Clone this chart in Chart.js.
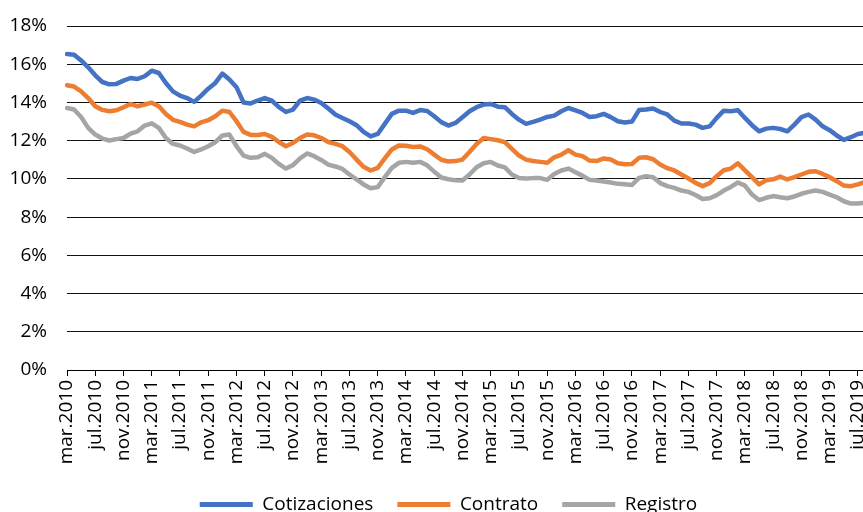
<!DOCTYPE html>
<html>
<head>
<meta charset="utf-8">
<script src="https://cdn.jsdelivr.net/npm/chart.js@4.4.1/dist/chart.umd.min.js"></script>
<style>
  html, body { margin:0; padding:0; overflow:hidden; background:#fff; }
  #wrap { position:absolute; left:0; top:0; width:868px; height:512px; }
</style>
</head>
<body>
<div id="wrap"><canvas id="chart"></canvas></div>
<script>
// Series (%), monthly from mar.2010
const cotizaciones = [
  16.53, 16.50, 16.20, 15.84, 15.42, 15.07, 14.95, 14.97, 15.14, 15.28,
  15.23, 15.37, 15.66, 15.54, 15.02, 14.58, 14.36, 14.23, 14.03, 14.36,
  14.72, 15.02, 15.51, 15.20, 14.80, 14.00, 13.95, 14.10, 14.23, 14.10,
  13.75, 13.50, 13.63, 14.10, 14.23, 14.15, 13.97, 13.68, 13.37, 13.19,
  13.02, 12.81, 12.46, 12.22, 12.35, 12.88, 13.40, 13.57, 13.57, 13.45,
  13.60, 13.55, 13.28, 12.97, 12.79, 12.93, 13.23, 13.54, 13.75, 13.89,
  13.92, 13.78, 13.75, 13.40, 13.10, 12.88, 12.98, 13.10, 13.24, 13.31,
  13.54, 13.71, 13.59, 13.45, 13.24, 13.28, 13.40, 13.23, 13.02, 12.95,
  13.00, 13.60, 13.63, 13.68, 13.50, 13.37, 13.05, 12.90, 12.90, 12.84,
  12.67, 12.75, 13.19, 13.57, 13.54, 13.59, 13.19, 12.81, 12.49, 12.63,
  12.67, 12.61, 12.49, 12.84, 13.23, 13.37, 13.10, 12.75, 12.55, 12.27,
  12.04, 12.18, 12.35, 12.41
];
const contrato = [
  14.90, 14.83, 14.58, 14.23, 13.80, 13.61, 13.54, 13.59, 13.75, 13.92,
  13.80, 13.89, 13.99, 13.80, 13.40, 13.09, 12.98, 12.84, 12.75, 12.96,
  13.07, 13.28, 13.57, 13.50, 13.02, 12.46, 12.30, 12.30, 12.35, 12.20,
  11.93, 11.71, 11.88, 12.14, 12.32, 12.28, 12.14, 11.93, 11.83, 11.71,
  11.41, 11.01, 10.63, 10.44, 10.58, 11.07, 11.54, 11.75, 11.73, 11.67,
  11.70, 11.55, 11.27, 11.00, 10.91, 10.93, 11.01, 11.41, 11.83, 12.14,
  12.08, 12.02, 11.92, 11.57, 11.22, 11.01, 10.94, 10.89, 10.84, 11.13,
  11.27, 11.50, 11.27, 11.19, 10.96, 10.93, 11.07, 11.01, 10.82, 10.77,
  10.78, 11.10, 11.13, 11.03, 10.75, 10.56, 10.44, 10.23, 10.02, 9.79,
  9.62, 9.78, 10.14, 10.45, 10.54, 10.82, 10.45, 10.09, 9.71, 9.93,
  9.98, 10.12, 9.97, 10.09, 10.23, 10.37, 10.40, 10.26, 10.09, 9.88,
  9.65, 9.62, 9.71, 9.84
];
const registro = [
  13.71, 13.63, 13.24, 12.67, 12.32, 12.11, 12.01, 12.08, 12.14, 12.37,
  12.49, 12.79, 12.91, 12.67, 12.14, 11.83, 11.75, 11.59, 11.41, 11.54,
  11.71, 11.92, 12.27, 12.32, 11.71, 11.22, 11.10, 11.13, 11.31, 11.10,
  10.78, 10.54, 10.72, 11.07, 11.33, 11.19, 10.99, 10.75, 10.65, 10.52,
  10.23, 9.97, 9.71, 9.51, 9.57, 10.09, 10.58, 10.84, 10.89, 10.84,
  10.89, 10.71, 10.38, 10.07, 9.98, 9.93, 9.92, 10.23, 10.61, 10.82,
  10.89, 10.70, 10.60, 10.23, 10.05, 10.02, 10.04, 10.04, 9.95, 10.26,
  10.44, 10.54, 10.35, 10.16, 9.95, 9.92, 9.86, 9.81, 9.74, 9.72,
  9.68, 10.05, 10.14, 10.09, 9.78, 9.62, 9.53, 9.39, 9.32, 9.16,
  8.95, 8.99, 9.15, 9.39, 9.58, 9.81, 9.65, 9.18, 8.89, 9.01,
  9.10, 9.04, 8.99, 9.08, 9.22, 9.32, 9.39, 9.32, 9.18, 9.04,
  8.83, 8.71, 8.71, 8.75
];

// Month labels, mar.2010 onwards
const monthNames = ['ene','feb','mar','abr','may','jun','jul','ago','sep','oct','nov','dic'];
const startMonth = 2, startYear = 2010;
const labels = [];
for (let i = 0; i < cotizaciones.length; i++) {
  const m = (startMonth + i) % 12;
  const y = startYear + Math.floor((startMonth + i) / 12);
  labels.push(monthNames[m] + '.' + y);
}

const seriesNames = ['Cotizaciones', 'Contrato', 'Registro'];
const colors = ['#4472C4', '#ED7D31', '#A5A5A5'];
const font = { family: "'Open Sans', sans-serif", size: 19 };

// nudge the legend to the right so it sits where the original one does
const legendShift = {
  id: 'legendShift',
  afterLayout(chart) {
    chart.legend.left += 16;
    chart.legend.right += 16;
  }
};

const ctx = document.getElementById('chart').getContext('2d');
new Chart(ctx, {
  type: 'line',
  data: {
    labels: labels,
    datasets: [cotizaciones, contrato, registro].map((d, i) => ({
      label: seriesNames[i],
      data: d,
      borderColor: colors[i],
      backgroundColor: colors[i],
      borderWidth: 4.5,
      pointRadius: 0,
      tension: 0,
      borderJoinStyle: 'round',
      borderCapStyle: 'round'
    }))
  },
  options: {
    responsive: true,
    maintainAspectRatio: false,
    animation: false,
    layout: { padding: { left: 0, right: 3, top: 26, bottom: -12 } },
    scales: {
      x: {
        offset: false,
        grid: { display: true, drawOnChartArea: false, drawTicks: true, tickLength: 6, color: '#000' },
        border: { display: true, color: '#000', width: 1 },
        ticks: {
          autoSkip: false, minRotation: 90, maxRotation: 90, padding: 4,
          color: '#000', font: font,
          callback: function(v, i) { return i % 4 === 0 ? this.getLabelForValue(v) : null; }
        },
        afterFit: (s) => { s.height = 101; s.paddingLeft = 0; s.paddingRight = 0; s.paddingTop = 0; s.paddingBottom = 0; }
      },
      y: {
        min: 0, max: 18,
        grid: { color: '#111', drawTicks: false },
        border: { display: false },
        ticks: { stepSize: 2, padding: 20, color: '#000', font: font, callback: v => v + '%' },
        afterFit: (s) => { s.width = 67; s.paddingTop = 0; s.paddingBottom = 0; }
      }
    },
    plugins: {
      legend: {
        position: 'bottom',
        labels: {
          color: '#000', font: font, boxWidth: 53, boxHeight: 5, padding: 24,
          useBorderRadius: true, borderRadius: 2.5,
          generateLabels: (chart) => chart.data.datasets.map((ds, i) => ({
            text: ds.label, fillStyle: ds.borderColor, strokeStyle: ds.borderColor,
            lineWidth: 0, datasetIndex: i, hidden: false
          }))
        }
      },
      tooltip: { enabled: false }
    }
  },
  plugins: [legendShift]
});
</script>
</body>
</html>
